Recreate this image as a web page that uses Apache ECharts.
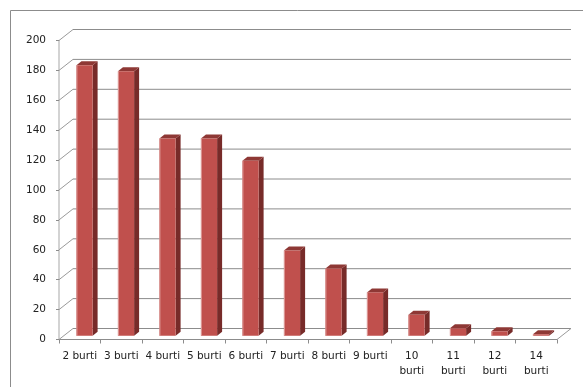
<!DOCTYPE html>
<html>
<head>
<meta charset="utf-8">
<script src="https://cdn.jsdelivr.net/npm/echarts@6/dist/echarts.min.js"></script>
<style>
  html, body { margin: 0; padding: 0; background: #fff; }
  #chart { width: 583px; height: 387px; }
</style>
</head>
<body>
<div id="chart"></div>
<script>
// Number of cases per group
const categories = ['2 burti', '3 burti', '4 burti', '5 burti', '6 burti', '7 burti',
                    '8 burti', '9 burti', '10 burti', '11 burti', '12 burti', '14 burti'];
const counts = [181, 177, 132, 132, 117, 57, 45, 29, 14, 5, 3, 1];
const yTicks = [0, 20, 40, 60, 80, 100, 120, 140, 160, 180, 200];

// Oblique projection: offset from front plane to back wall, and bar depth
const DEPTH = [14, -11];
const BAR_POS = 0.34;          // where the bar front face sits between front and back
const BAR_DEPTH = [5, -4];
const BAR_RATIO = 0.39;

const chart = echarts.init(document.getElementById('chart'), null, { renderer: 'canvas' });

function renderWall(params, api) {
  const cs = params.coordSys;
  const v = api.value(1);
  const y = api.coord([0, v])[1];
  const x0 = cs.x, x1 = cs.x + cs.width;
  const lineStyle = { stroke: '#8c8c8c', lineWidth: 1 };
  const children = [
    { type: 'line', shape: { x1: x0, y1: y, x2: x0 + DEPTH[0], y2: y + DEPTH[1] },
      style: { stroke: '#9a9a9a', lineWidth: 1 } },
    { type: 'line', shape: { x1: x0 + DEPTH[0], y1: y + DEPTH[1], x2: x1 + DEPTH[0], y2: y + DEPTH[1] },
      style: lineStyle }
  ];
  if (v === yTicks[0]) {
    // right edge of the floor
    children.push({ type: 'line',
      shape: { x1: x1, y1: y, x2: x1 + DEPTH[0], y2: y + DEPTH[1] },
      style: { stroke: '#9a9a9a', lineWidth: 1 } });
  }
  return { type: 'group', children: children };
}

function renderBar(params, api) {
  const idx = api.value(0);
  const top = api.coord([idx, api.value(1)]);
  const base = api.coord([idx, 0]);
  const band = api.size([1, 0])[0];
  const w = band * BAR_RATIO;
  const ox = DEPTH[0] * BAR_POS, oy = DEPTH[1] * BAR_POS;
  const xl = top[0] + ox - w / 2, xr = top[0] + ox + w / 2;
  const yt = top[1] + oy, yb = base[1] + oy;
  const bx = BAR_DEPTH[0], by = BAR_DEPTH[1];
  return {
    type: 'group',
    children: [
      { type: 'polygon',
        shape: { points: [[xr, yt], [xr + bx, yt + by], [xr + bx, yb + by], [xr, yb]] },
        style: { fill: '#772b29' } },
      { type: 'polygon',
        shape: { points: [[xl, yt], [xl + bx, yt + by], [xr + bx, yt + by], [xr, yt]] },
        style: { fill: '#8e3835' } },
      { type: 'rect',
        shape: { x: xl, y: yt, width: w, height: yb - yt },
        style: { fill: '#c0504d' } },
      { type: 'line',
        shape: { x1: xl + 0.5, y1: yt, x2: xl + 0.5, y2: yb },
        style: { stroke: '#dc9a98', lineWidth: 1 } }
    ]
  };
}

const labelFont = { fontFamily: 'DejaVu Sans', fontSize: 10.5, color: '#222' };

chart.setOption({
  animation: false,
  backgroundColor: '#fff',
  graphic: [{
    type: 'rect',
    shape: { x: 10.5, y: 10.5, width: 640, height: 440 },
    style: { fill: 'none', stroke: '#8c8c8c', lineWidth: 1 },
    silent: true
  }],
  grid: { left: 59, right: 26, top: 40.5, bottom: 47.5 },
  xAxis: {
    type: 'category',
    data: categories,
    boundaryGap: true,
    axisLine: { lineStyle: { color: '#8c8c8c', width: 1 } },
    axisTick: { show: true, interval: 0, length: 4, lineStyle: { color: '#8c8c8c' } },
    axisLabel: Object.assign({
      interval: 0,
      margin: 9,
      lineHeight: 15,
      formatter: function (s) {
        return s.length > 7 ? s.replace(' ', '\n') : s;
      }
    }, labelFont)
  },
  yAxis: {
    type: 'value',
    min: yTicks[0],
    max: yTicks[yTicks.length - 1],
    interval: yTicks[1] - yTicks[0],
    splitLine: { show: false },
    axisLine: { show: true, lineStyle: { color: '#c4c4c4', width: 1.5 } },
    axisTick: { show: true, length: 3, lineStyle: { color: '#8c8c8c' } },
    axisLabel: Object.assign({ margin: 13 }, labelFont)
  },
  series: [
    {
      type: 'custom',
      name: 'walls',
      z: 1,
      silent: true,
      clip: false,
      renderItem: renderWall,
      encode: { x: 0, y: 1 },
      data: yTicks.map(v => [0, v])
    },
    {
      type: 'custom',
      name: 'Cases',
      z: 3,
      clip: false,
      renderItem: renderBar,
      encode: { x: 0, y: 1 },
      data: counts.map((v, i) => [i, v])
    }
  ]
});
</script>
</body>
</html>
